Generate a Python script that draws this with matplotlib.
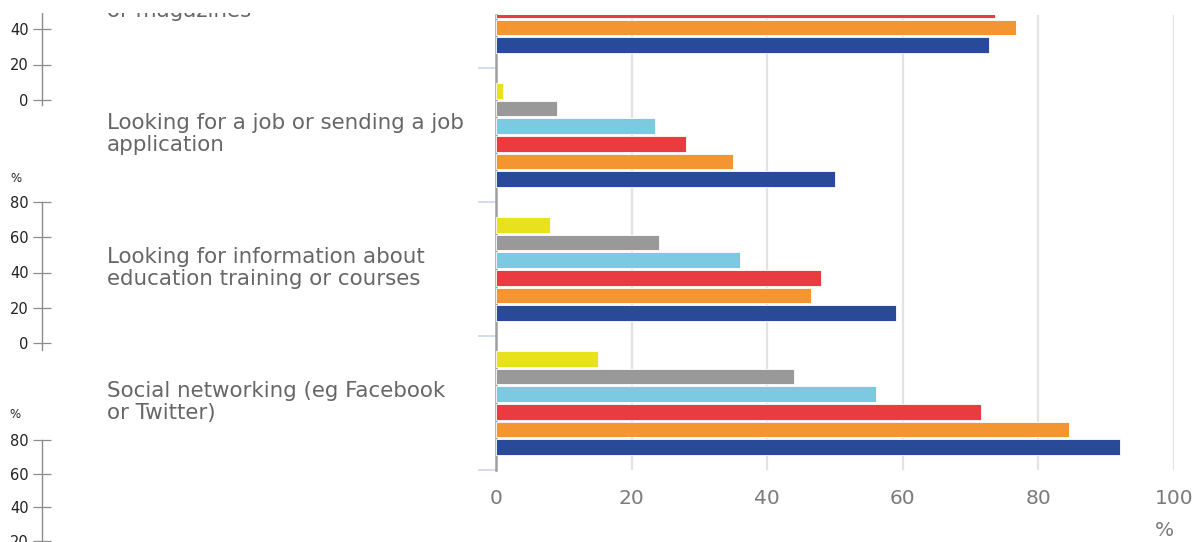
import numpy as np
import matplotlib
matplotlib.use("Agg")
import matplotlib.pyplot as plt
from matplotlib.patches import Rectangle
from matplotlib.transforms import blended_transform_factory

# ---------------- data ----------------
categories = [
    "Reading online news sites, newspapers\nor magazines",
    "Looking for a job or sending a job\napplication",
    "Looking for information about\neducation training or courses",
    "Social networking (eg Facebook\nor Twitter)",
]
# series listed top -> bottom inside each group
series_names = ["65-74", "55-64", "45-54", "35-44", "25-34", "16-24"]
series_colors = ["#e8e21c", "#999999", "#7ccae1", "#e83c41", "#f39530", "#284a98"]
v_65_74 = [np.nan, 1, 8, 15]
v_55_64 = [np.nan, 9, 24, 44]
v_45_54 = [np.nan, 23.5, 36, 56]
v_35_44 = [73.6, 28, 48, 71.5]
v_25_34 = [76.7, 35, 46.5, 84.5]
v_16_24 = [72.7, 50, 59, 92]
values = [v_65_74, v_55_64, v_45_54, v_35_44, v_25_34, v_16_24]

x_ticks = [0, 20, 40, 60, 80, 100]
spark1_ticks = [0, 20, 40]
spark2_ticks = [0, 20, 40, 60, 80]
spark3_ticks = [20, 40, 60, 80]

# ---------------- figure ----------------
W, H = 1197, 542
fig = plt.figure(figsize=(W / 100, H / 100), dpi=100)


def rect(l, t, r, b):
    return [l / W, 1 - b / H, (r - l) / W, (b - t) / H]


# main bar chart
ax = fig.add_axes(rect(496, 15, 1174, 470))
pitch = 134.0

pad = 14 / pitch
slot = (1 - 2 * pad) / len(series_names)
bar_h = 15.5 / pitch
y_idx = np.arange(len(categories))
for j, (name, col, vals) in enumerate(zip(series_names, series_colors, values)):
    ypos = y_idx - 0.5 + pad + (j + 0.5) * slot
    ax.barh(ypos, vals, height=bar_h, color=col, edgecolor="white",
            linewidth=0.6, label=name, zorder=3)

for s in ["top", "right", "bottom"]:
    ax.spines[s].set_visible(False)
ax.spines["left"].set_color("#a0a0a0")
ax.spines["left"].set_linewidth(1.8)
ax.spines["left"].set_zorder(2)

ax.set_xticks(x_ticks)
ax.set_xticklabels([str(t) for t in x_ticks])
ax.tick_params(axis="x", length=0, pad=14, labelsize=14.5, labelcolor="#7a7a7a")
ax.grid(axis="x", color="#e3e3e3", linewidth=1.6, zorder=0)
ax.set_axisbelow(True)

ax.set_yticks(np.arange(-0.5, 4.0, 1.0))
ax.set_yticklabels([])
ax.tick_params(axis="y", length=13, width=1.2, color="#ccd6eb", direction="out")

ax.set_ylim(3.5, 3.5 - (470 - 15) / pitch)
ax.set_xlim(0, 100)

trans = blended_transform_factory(fig.transFigure, ax.transData)
for i, lab in enumerate(categories):
    ax.text(107 / W, i - 0.01, lab, transform=trans, ha="left", va="center",
            fontsize=15.4, color="#666666", linespacing=1.12, clip_on=False)

fig.text(1164 / W, 1 - 531 / H, "%", ha="center", va="center",
         fontsize=14.5, color="#7a7a7a")


# ---------------- stray small axes on the left ----------------
def spark(top_px, bottom_px, vtop, ppu, ticks):
    a = fig.add_axes(rect(35, top_px, 49, bottom_px))
    a.set_xlim(0, 1)
    for s in ["top", "right", "bottom"]:
        a.spines[s].set_visible(False)
    a.spines["left"].set_position(("axes", 0.5))
    a.spines["left"].set_color("#8c8c8c")
    a.spines["left"].set_linewidth(1.0)
    a.set_xticks([])
    a.set_yticks(ticks)
    a.set_yticklabels([str(t) for t in ticks])
    a.set_ylim(vtop - (bottom_px - top_px) / ppu, vtop)
    a.tick_params(axis="y", direction="inout", length=13, width=0.9,
                  color="#8c8c8c", labelsize=10.5, labelcolor="#222222", pad=3)
    a.patch.set_alpha(0)
    return a


spark(0, 105, 100 / 1.775, 1.775, spark1_ticks)
spark(202, 350, 80, 141 / 80, spark2_ticks)
spark(440, 560, 80, 1.68, spark3_ticks)

fig.text(16 / W, 1 - 178 / H, "%", ha="center", va="center", fontsize=8.5, color="#222222")
fig.text(15 / W, 1 - 414 / H, "%", ha="center", va="center", fontsize=8.5, color="#222222")

# white band at the top (the source image is cut there)
fig.patches.append(Rectangle((0, 1 - 13 / H), 1, 13 / H, transform=fig.transFigure,
                             facecolor="white", edgecolor="none", zorder=100))

fig.savefig("out.png", dpi=100)
